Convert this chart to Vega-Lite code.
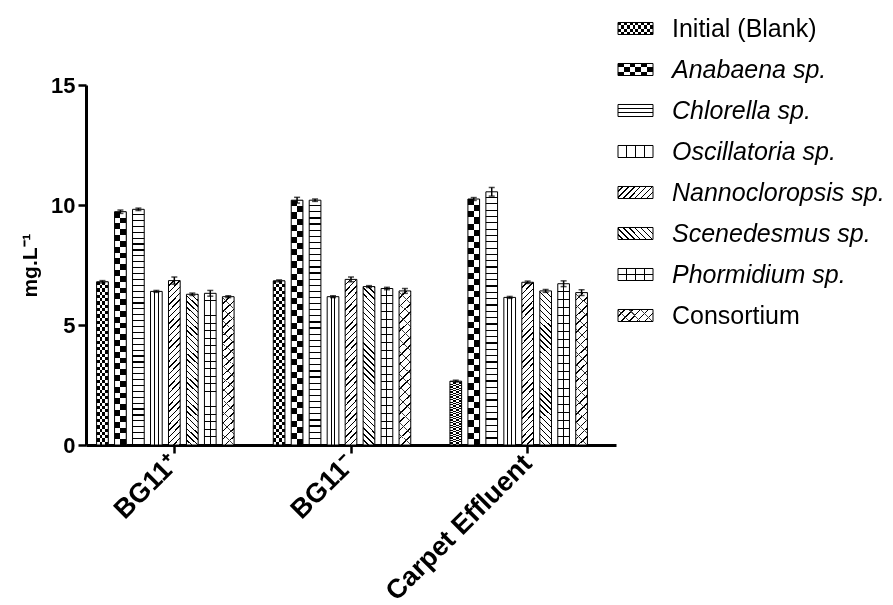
{
"$schema": "https://vega.github.io/schema/vega-lite/v6.json",
"padding": {"left": 19, "top": 8, "right": 0, "bottom": 0},
"background": "white",
"config": {"view": {"stroke": null}, "font": "Liberation Sans"},
"datasets": {
"bars": [
{"medium": "BG11⁺", "species": "Initial (Blank)", "value": 6.8, "lo": 6.75, "hi": 6.85},
{"medium": "BG11⁺", "species": "Anabaena sp.", "value": 9.72, "lo": 9.65, "hi": 9.79},
{"medium": "BG11⁺", "species": "Chlorella sp.", "value": 9.82, "lo": 9.77, "hi": 9.87},
{"medium": "BG11⁺", "species": "Oscillatoria sp.", "value": 6.4, "lo": 6.36, "hi": 6.44},
{"medium": "BG11⁺", "species": "Nannocloropsis sp.", "value": 6.85, "lo": 6.7, "hi": 7.0},
{"medium": "BG11⁺", "species": "Scenedesmus sp.", "value": 6.28, "lo": 6.23, "hi": 6.33},
{"medium": "BG11⁺", "species": "Phormidium sp.", "value": 6.32, "lo": 6.2, "hi": 6.44},
{"medium": "BG11⁺", "species": "Consortium", "value": 6.18, "lo": 6.14, "hi": 6.22},
{"medium": "BG11⁻", "species": "Initial (Blank)", "value": 6.84, "lo": 6.8, "hi": 6.88},
{"medium": "BG11⁻", "species": "Anabaena sp.", "value": 10.2, "lo": 10.08, "hi": 10.32},
{"medium": "BG11⁻", "species": "Chlorella sp.", "value": 10.2, "lo": 10.15, "hi": 10.25},
{"medium": "BG11⁻", "species": "Oscillatoria sp.", "value": 6.18, "lo": 6.14, "hi": 6.22},
{"medium": "BG11⁻", "species": "Nannocloropsis sp.", "value": 6.9, "lo": 6.8, "hi": 7.0},
{"medium": "BG11⁻", "species": "Scenedesmus sp.", "value": 6.6, "lo": 6.56, "hi": 6.64},
{"medium": "BG11⁻", "species": "Phormidium sp.", "value": 6.52, "lo": 6.47, "hi": 6.57},
{"medium": "BG11⁻", "species": "Consortium", "value": 6.42, "lo": 6.32, "hi": 6.52},
{"medium": "Carpet Effluent", "species": "Initial (Blank)", "value": 2.66, "lo": 2.62, "hi": 2.7},
{"medium": "Carpet Effluent", "species": "Anabaena sp.", "value": 10.25, "lo": 10.19, "hi": 10.31},
{"medium": "Carpet Effluent", "species": "Chlorella sp.", "value": 10.55, "lo": 10.37, "hi": 10.73},
{"medium": "Carpet Effluent", "species": "Oscillatoria sp.", "value": 6.15, "lo": 6.11, "hi": 6.19},
{"medium": "Carpet Effluent", "species": "Nannocloropsis sp.", "value": 6.78, "lo": 6.73, "hi": 6.83},
{"medium": "Carpet Effluent", "species": "Scenedesmus sp.", "value": 6.42, "lo": 6.36, "hi": 6.48},
{"medium": "Carpet Effluent", "species": "Phormidium sp.", "value": 6.72, "lo": 6.6, "hi": 6.84},
{"medium": "Carpet Effluent", "species": "Consortium", "value": 6.35, "lo": 6.23, "hi": 6.47}
],
"legend": [
{"species": "Initial (Blank)"},
{"species": "Anabaena sp."},
{"species": "Chlorella sp."},
{"species": "Oscillatoria sp."},
{"species": "Nannocloropsis sp."},
{"species": "Scenedesmus sp."},
{"species": "Phormidium sp."},
{"species": "Consortium"}
]
},
"spacing": 1,
"hconcat": [
{
"spacing": 0,
"vconcat": [
{"width": 10, "height": 66, "data": {"values": []}, "mark": "text"},
{
"width": 530, "height": 360,
"data": {"name": "bars"},
"encoding": {
"x": {"field": "medium", "type": "nominal",
 "scale": {"domain": ["BG11⁺", "BG11⁻", "Carpet Effluent"], "paddingInner": 0.12, "paddingOuter": 0.06},
 "axis": {"title": null, "labelAngle": -45, "labelAlign": "right", "labelBaseline": "middle", "labelFontSize": 27, "labelFontWeight": "bold", "labelColor": "#000", "labelPadding": 6, "labelLimit": 400, "tickSize": 8, "tickWidth": 2.5, "tickColor": "#000", "domainWidth": 3, "domainColor": "#000"}},
"xOffset": {"field": "species", "type": "nominal",
 "scale": {"domain": ["Initial (Blank)", "Anabaena sp.", "Chlorella sp.", "Oscillatoria sp.", "Nannocloropsis sp.", "Scenedesmus sp.", "Phormidium sp.", "Consortium", "_"], "paddingInner": 0.35, "paddingOuter": 0}},
"y": {"field": "value", "type": "quantitative", "title": "mg.L⁻¹",
 "scale": {"domain": [0, 15], "nice": false},
 "axis": {"values": [0, 5, 10, 15], "grid": false, "titleFontSize": 21, "titleFontWeight": "bold", "titleColor": "#000", "titlePadding": 10, "labelFontSize": 22, "labelFontWeight": "bold", "labelColor": "#000", "labelPadding": 3, "tickSize": 8, "tickWidth": 2.5, "tickColor": "#000", "domainWidth": 3, "domainColor": "#000"}}
},
"layer": [
{
"mark": {"type": "bar"},
"encoding": {"fill": {"condition": [
{"test": "datum.species==='Initial (Blank)'", "value": {"gradient":"linear","x1":0,"y1":0,"x2":0,"y2":1,"stops":[
{"offset":0,"color":"#000"},{"offset":0.02,"color":"#000"},{"offset":0.02,"color":"#fff"},{"offset":0.04,"color":"#fff"},
{"offset":0.04,"color":"#000"},{"offset":0.06,"color":"#000"},{"offset":0.06,"color":"#fff"},{"offset":0.08,"color":"#fff"},
{"offset":0.08,"color":"#000"},{"offset":0.1,"color":"#000"},{"offset":0.1,"color":"#fff"},{"offset":0.12,"color":"#fff"},
{"offset":0.12,"color":"#000"},{"offset":0.14,"color":"#000"},{"offset":0.14,"color":"#fff"},{"offset":0.16,"color":"#fff"},
{"offset":0.16,"color":"#000"},{"offset":0.18,"color":"#000"},{"offset":0.18,"color":"#fff"},{"offset":0.2,"color":"#fff"},
{"offset":0.2,"color":"#000"},{"offset":0.22,"color":"#000"},{"offset":0.22,"color":"#fff"},{"offset":0.24,"color":"#fff"},
{"offset":0.24,"color":"#000"},{"offset":0.26,"color":"#000"},{"offset":0.26,"color":"#fff"},{"offset":0.28,"color":"#fff"},
{"offset":0.28,"color":"#000"},{"offset":0.3,"color":"#000"},{"offset":0.3,"color":"#fff"},{"offset":0.32,"color":"#fff"},
{"offset":0.32,"color":"#000"},{"offset":0.34,"color":"#000"},{"offset":0.34,"color":"#fff"},{"offset":0.36,"color":"#fff"},
{"offset":0.36,"color":"#000"},{"offset":0.38,"color":"#000"},{"offset":0.38,"color":"#fff"},{"offset":0.4,"color":"#fff"},
{"offset":0.4,"color":"#000"},{"offset":0.42,"color":"#000"},{"offset":0.42,"color":"#fff"},{"offset":0.44,"color":"#fff"},
{"offset":0.44,"color":"#000"},{"offset":0.46,"color":"#000"},{"offset":0.46,"color":"#fff"},{"offset":0.48,"color":"#fff"},
{"offset":0.48,"color":"#000"},{"offset":0.5,"color":"#000"},{"offset":0.5,"color":"#fff"},{"offset":0.52,"color":"#fff"},
{"offset":0.52,"color":"#000"},{"offset":0.54,"color":"#000"},{"offset":0.54,"color":"#fff"},{"offset":0.56,"color":"#fff"},
{"offset":0.56,"color":"#000"},{"offset":0.58,"color":"#000"},{"offset":0.58,"color":"#fff"},{"offset":0.6,"color":"#fff"},
{"offset":0.6,"color":"#000"},{"offset":0.62,"color":"#000"},{"offset":0.62,"color":"#fff"},{"offset":0.64,"color":"#fff"},
{"offset":0.64,"color":"#000"},{"offset":0.66,"color":"#000"},{"offset":0.66,"color":"#fff"},{"offset":0.68,"color":"#fff"},
{"offset":0.68,"color":"#000"},{"offset":0.7,"color":"#000"},{"offset":0.7,"color":"#fff"},{"offset":0.72,"color":"#fff"},
{"offset":0.72,"color":"#000"},{"offset":0.74,"color":"#000"},{"offset":0.74,"color":"#fff"},{"offset":0.76,"color":"#fff"},
{"offset":0.76,"color":"#000"},{"offset":0.78,"color":"#000"},{"offset":0.78,"color":"#fff"},{"offset":0.8,"color":"#fff"},
{"offset":0.8,"color":"#000"},{"offset":0.82,"color":"#000"},{"offset":0.82,"color":"#fff"},{"offset":0.84,"color":"#fff"},
{"offset":0.84,"color":"#000"},{"offset":0.86,"color":"#000"},{"offset":0.86,"color":"#fff"},{"offset":0.88,"color":"#fff"},
{"offset":0.88,"color":"#000"},{"offset":0.9,"color":"#000"},{"offset":0.9,"color":"#fff"},{"offset":0.92,"color":"#fff"},
{"offset":0.92,"color":"#000"},{"offset":0.94,"color":"#000"},{"offset":0.94,"color":"#fff"},{"offset":0.96,"color":"#fff"},
{"offset":0.96,"color":"#000"},{"offset":0.98,"color":"#000"},{"offset":0.98,"color":"#fff"},{"offset":1,"color":"#fff"}]}},
{"test": "datum.species==='Anabaena sp.'", "value": {"gradient":"linear","x1":0,"y1":0,"x2":0,"y2":1,"stops":[
{"offset":0,"color":"#000"},{"offset":0.025,"color":"#000"},{"offset":0.025,"color":"#fff"},{"offset":0.05,"color":"#fff"},
{"offset":0.05,"color":"#000"},{"offset":0.075,"color":"#000"},{"offset":0.075,"color":"#fff"},{"offset":0.1,"color":"#fff"},
{"offset":0.1,"color":"#000"},{"offset":0.125,"color":"#000"},{"offset":0.125,"color":"#fff"},{"offset":0.15,"color":"#fff"},
{"offset":0.15,"color":"#000"},{"offset":0.175,"color":"#000"},{"offset":0.175,"color":"#fff"},{"offset":0.2,"color":"#fff"},
{"offset":0.2,"color":"#000"},{"offset":0.225,"color":"#000"},{"offset":0.225,"color":"#fff"},{"offset":0.25,"color":"#fff"},
{"offset":0.25,"color":"#000"},{"offset":0.275,"color":"#000"},{"offset":0.275,"color":"#fff"},{"offset":0.3,"color":"#fff"},
{"offset":0.3,"color":"#000"},{"offset":0.325,"color":"#000"},{"offset":0.325,"color":"#fff"},{"offset":0.35,"color":"#fff"},
{"offset":0.35,"color":"#000"},{"offset":0.375,"color":"#000"},{"offset":0.375,"color":"#fff"},{"offset":0.4,"color":"#fff"},
{"offset":0.4,"color":"#000"},{"offset":0.425,"color":"#000"},{"offset":0.425,"color":"#fff"},{"offset":0.45,"color":"#fff"},
{"offset":0.45,"color":"#000"},{"offset":0.475,"color":"#000"},{"offset":0.475,"color":"#fff"},{"offset":0.5,"color":"#fff"},
{"offset":0.5,"color":"#000"},{"offset":0.525,"color":"#000"},{"offset":0.525,"color":"#fff"},{"offset":0.55,"color":"#fff"},
{"offset":0.55,"color":"#000"},{"offset":0.575,"color":"#000"},{"offset":0.575,"color":"#fff"},{"offset":0.6,"color":"#fff"},
{"offset":0.6,"color":"#000"},{"offset":0.625,"color":"#000"},{"offset":0.625,"color":"#fff"},{"offset":0.65,"color":"#fff"},
{"offset":0.65,"color":"#000"},{"offset":0.675,"color":"#000"},{"offset":0.675,"color":"#fff"},{"offset":0.7,"color":"#fff"},
{"offset":0.7,"color":"#000"},{"offset":0.725,"color":"#000"},{"offset":0.725,"color":"#fff"},{"offset":0.75,"color":"#fff"},
{"offset":0.75,"color":"#000"},{"offset":0.775,"color":"#000"},{"offset":0.775,"color":"#fff"},{"offset":0.8,"color":"#fff"},
{"offset":0.8,"color":"#000"},{"offset":0.825,"color":"#000"},{"offset":0.825,"color":"#fff"},{"offset":0.85,"color":"#fff"},
{"offset":0.85,"color":"#000"},{"offset":0.875,"color":"#000"},{"offset":0.875,"color":"#fff"},{"offset":0.9,"color":"#fff"},
{"offset":0.9,"color":"#000"},{"offset":0.925,"color":"#000"},{"offset":0.925,"color":"#fff"},{"offset":0.95,"color":"#fff"},
{"offset":0.95,"color":"#000"},{"offset":0.975,"color":"#000"},{"offset":0.975,"color":"#fff"},{"offset":1,"color":"#fff"}]}},
{"test": "datum.species==='Chlorella sp.'", "value": {"gradient":"linear","x1":0,"y1":0,"x2":0,"y2":1,"stops":[
{"offset":0,"color":"#fff"},
{"offset":0.02,"color":"#fff"},{"offset":0.02,"color":"#000"},{"offset":0.025,"color":"#000"},{"offset":0.025,"color":"#fff"},
{"offset":0.045,"color":"#fff"},{"offset":0.045,"color":"#000"},{"offset":0.05,"color":"#000"},{"offset":0.05,"color":"#fff"},
{"offset":0.07,"color":"#fff"},{"offset":0.07,"color":"#000"},{"offset":0.075,"color":"#000"},{"offset":0.075,"color":"#fff"},
{"offset":0.095,"color":"#fff"},{"offset":0.095,"color":"#000"},{"offset":0.1,"color":"#000"},{"offset":0.1,"color":"#fff"},
{"offset":0.12,"color":"#fff"},{"offset":0.12,"color":"#000"},{"offset":0.125,"color":"#000"},{"offset":0.125,"color":"#fff"},
{"offset":0.145,"color":"#fff"},{"offset":0.145,"color":"#000"},{"offset":0.15,"color":"#000"},{"offset":0.15,"color":"#fff"},
{"offset":0.17,"color":"#fff"},{"offset":0.17,"color":"#000"},{"offset":0.175,"color":"#000"},{"offset":0.175,"color":"#fff"},
{"offset":0.195,"color":"#fff"},{"offset":0.195,"color":"#000"},{"offset":0.2,"color":"#000"},{"offset":0.2,"color":"#fff"},
{"offset":0.22,"color":"#fff"},{"offset":0.22,"color":"#000"},{"offset":0.225,"color":"#000"},{"offset":0.225,"color":"#fff"},
{"offset":0.245,"color":"#fff"},{"offset":0.245,"color":"#000"},{"offset":0.25,"color":"#000"},{"offset":0.25,"color":"#fff"},
{"offset":0.27,"color":"#fff"},{"offset":0.27,"color":"#000"},{"offset":0.275,"color":"#000"},{"offset":0.275,"color":"#fff"},
{"offset":0.295,"color":"#fff"},{"offset":0.295,"color":"#000"},{"offset":0.3,"color":"#000"},{"offset":0.3,"color":"#fff"},
{"offset":0.32,"color":"#fff"},{"offset":0.32,"color":"#000"},{"offset":0.325,"color":"#000"},{"offset":0.325,"color":"#fff"},
{"offset":0.345,"color":"#fff"},{"offset":0.345,"color":"#000"},{"offset":0.35,"color":"#000"},{"offset":0.35,"color":"#fff"},
{"offset":0.37,"color":"#fff"},{"offset":0.37,"color":"#000"},{"offset":0.375,"color":"#000"},{"offset":0.375,"color":"#fff"},
{"offset":0.395,"color":"#fff"},{"offset":0.395,"color":"#000"},{"offset":0.4,"color":"#000"},{"offset":0.4,"color":"#fff"},
{"offset":0.42,"color":"#fff"},{"offset":0.42,"color":"#000"},{"offset":0.425,"color":"#000"},{"offset":0.425,"color":"#fff"},
{"offset":0.445,"color":"#fff"},{"offset":0.445,"color":"#000"},{"offset":0.45,"color":"#000"},{"offset":0.45,"color":"#fff"},
{"offset":0.47,"color":"#fff"},{"offset":0.47,"color":"#000"},{"offset":0.475,"color":"#000"},{"offset":0.475,"color":"#fff"},
{"offset":0.495,"color":"#fff"},{"offset":0.495,"color":"#000"},{"offset":0.5,"color":"#000"},{"offset":0.5,"color":"#fff"},
{"offset":0.52,"color":"#fff"},{"offset":0.52,"color":"#000"},{"offset":0.525,"color":"#000"},{"offset":0.525,"color":"#fff"},
{"offset":0.545,"color":"#fff"},{"offset":0.545,"color":"#000"},{"offset":0.55,"color":"#000"},{"offset":0.55,"color":"#fff"},
{"offset":0.57,"color":"#fff"},{"offset":0.57,"color":"#000"},{"offset":0.575,"color":"#000"},{"offset":0.575,"color":"#fff"},
{"offset":0.595,"color":"#fff"},{"offset":0.595,"color":"#000"},{"offset":0.6,"color":"#000"},{"offset":0.6,"color":"#fff"},
{"offset":0.62,"color":"#fff"},{"offset":0.62,"color":"#000"},{"offset":0.625,"color":"#000"},{"offset":0.625,"color":"#fff"},
{"offset":0.645,"color":"#fff"},{"offset":0.645,"color":"#000"},{"offset":0.65,"color":"#000"},{"offset":0.65,"color":"#fff"},
{"offset":0.67,"color":"#fff"},{"offset":0.67,"color":"#000"},{"offset":0.675,"color":"#000"},{"offset":0.675,"color":"#fff"},
{"offset":0.695,"color":"#fff"},{"offset":0.695,"color":"#000"},{"offset":0.7,"color":"#000"},{"offset":0.7,"color":"#fff"},
{"offset":0.72,"color":"#fff"},{"offset":0.72,"color":"#000"},{"offset":0.725,"color":"#000"},{"offset":0.725,"color":"#fff"},
{"offset":0.745,"color":"#fff"},{"offset":0.745,"color":"#000"},{"offset":0.75,"color":"#000"},{"offset":0.75,"color":"#fff"},
{"offset":0.77,"color":"#fff"},{"offset":0.77,"color":"#000"},{"offset":0.775,"color":"#000"},{"offset":0.775,"color":"#fff"},
{"offset":0.795,"color":"#fff"},{"offset":0.795,"color":"#000"},{"offset":0.8,"color":"#000"},{"offset":0.8,"color":"#fff"},
{"offset":0.82,"color":"#fff"},{"offset":0.82,"color":"#000"},{"offset":0.825,"color":"#000"},{"offset":0.825,"color":"#fff"},
{"offset":0.845,"color":"#fff"},{"offset":0.845,"color":"#000"},{"offset":0.85,"color":"#000"},{"offset":0.85,"color":"#fff"},
{"offset":0.87,"color":"#fff"},{"offset":0.87,"color":"#000"},{"offset":0.875,"color":"#000"},{"offset":0.875,"color":"#fff"},
{"offset":0.895,"color":"#fff"},{"offset":0.895,"color":"#000"},{"offset":0.9,"color":"#000"},{"offset":0.9,"color":"#fff"},
{"offset":0.92,"color":"#fff"},{"offset":0.92,"color":"#000"},{"offset":0.925,"color":"#000"},{"offset":0.925,"color":"#fff"},
{"offset":0.945,"color":"#fff"},{"offset":0.945,"color":"#000"},{"offset":0.95,"color":"#000"},{"offset":0.95,"color":"#fff"},
{"offset":0.97,"color":"#fff"},{"offset":0.97,"color":"#000"},{"offset":0.975,"color":"#000"},{"offset":0.975,"color":"#fff"},
{"offset":0.995,"color":"#fff"},{"offset":0.995,"color":"#000"},{"offset":1,"color":"#000"}]}},
{"test": "datum.species==='Oscillatoria sp.'", "value": {"gradient":"linear","x1":0,"y1":0,"x2":1,"y2":0,"stops":[
{"offset":0,"color":"#fff"},{"offset":0.29,"color":"#fff"},{"offset":0.29,"color":"#000"},{"offset":0.375,"color":"#000"},{"offset":0.375,"color":"#fff"},
{"offset":0.625,"color":"#fff"},{"offset":0.625,"color":"#000"},{"offset":0.71,"color":"#000"},{"offset":0.71,"color":"#fff"},{"offset":1,"color":"#fff"}]}},
{"test": "datum.species==='Nannocloropsis sp.'", "value": {"gradient":"linear","x1":0,"y1":0,"x2":0.079,"y2":1.068,"stops":[
{"offset":0,"color":"#fff"},
{"offset":0.0274,"color":"#fff"},{"offset":0.0274,"color":"#000"},{"offset":0.0357,"color":"#000"},{"offset":0.0357,"color":"#fff"},
{"offset":0.0631,"color":"#fff"},{"offset":0.0631,"color":"#000"},{"offset":0.0714,"color":"#000"},{"offset":0.0714,"color":"#fff"},
{"offset":0.0988,"color":"#fff"},{"offset":0.0988,"color":"#000"},{"offset":0.1071,"color":"#000"},{"offset":0.1071,"color":"#fff"},
{"offset":0.1346,"color":"#fff"},{"offset":0.1346,"color":"#000"},{"offset":0.1429,"color":"#000"},{"offset":0.1429,"color":"#fff"},
{"offset":0.1703,"color":"#fff"},{"offset":0.1703,"color":"#000"},{"offset":0.1786,"color":"#000"},{"offset":0.1786,"color":"#fff"},
{"offset":0.206,"color":"#fff"},{"offset":0.206,"color":"#000"},{"offset":0.2143,"color":"#000"},{"offset":0.2143,"color":"#fff"},
{"offset":0.2417,"color":"#fff"},{"offset":0.2417,"color":"#000"},{"offset":0.25,"color":"#000"},{"offset":0.25,"color":"#fff"},
{"offset":0.2774,"color":"#fff"},{"offset":0.2774,"color":"#000"},{"offset":0.2857,"color":"#000"},{"offset":0.2857,"color":"#fff"},
{"offset":0.3131,"color":"#fff"},{"offset":0.3131,"color":"#000"},{"offset":0.3214,"color":"#000"},{"offset":0.3214,"color":"#fff"},
{"offset":0.3488,"color":"#fff"},{"offset":0.3488,"color":"#000"},{"offset":0.3571,"color":"#000"},{"offset":0.3571,"color":"#fff"},
{"offset":0.3846,"color":"#fff"},{"offset":0.3846,"color":"#000"},{"offset":0.3929,"color":"#000"},{"offset":0.3929,"color":"#fff"},
{"offset":0.4203,"color":"#fff"},{"offset":0.4203,"color":"#000"},{"offset":0.4286,"color":"#000"},{"offset":0.4286,"color":"#fff"},
{"offset":0.456,"color":"#fff"},{"offset":0.456,"color":"#000"},{"offset":0.4643,"color":"#000"},{"offset":0.4643,"color":"#fff"},
{"offset":0.4917,"color":"#fff"},{"offset":0.4917,"color":"#000"},{"offset":0.5,"color":"#000"},{"offset":0.5,"color":"#fff"},
{"offset":0.5274,"color":"#fff"},{"offset":0.5274,"color":"#000"},{"offset":0.5357,"color":"#000"},{"offset":0.5357,"color":"#fff"},
{"offset":0.5631,"color":"#fff"},{"offset":0.5631,"color":"#000"},{"offset":0.5714,"color":"#000"},{"offset":0.5714,"color":"#fff"},
{"offset":0.5988,"color":"#fff"},{"offset":0.5988,"color":"#000"},{"offset":0.6071,"color":"#000"},{"offset":0.6071,"color":"#fff"},
{"offset":0.6346,"color":"#fff"},{"offset":0.6346,"color":"#000"},{"offset":0.6429,"color":"#000"},{"offset":0.6429,"color":"#fff"},
{"offset":0.6703,"color":"#fff"},{"offset":0.6703,"color":"#000"},{"offset":0.6786,"color":"#000"},{"offset":0.6786,"color":"#fff"},
{"offset":0.706,"color":"#fff"},{"offset":0.706,"color":"#000"},{"offset":0.7143,"color":"#000"},{"offset":0.7143,"color":"#fff"},
{"offset":0.7417,"color":"#fff"},{"offset":0.7417,"color":"#000"},{"offset":0.75,"color":"#000"},{"offset":0.75,"color":"#fff"},
{"offset":0.7774,"color":"#fff"},{"offset":0.7774,"color":"#000"},{"offset":0.7857,"color":"#000"},{"offset":0.7857,"color":"#fff"},
{"offset":0.8131,"color":"#fff"},{"offset":0.8131,"color":"#000"},{"offset":0.8214,"color":"#000"},{"offset":0.8214,"color":"#fff"},
{"offset":0.8488,"color":"#fff"},{"offset":0.8488,"color":"#000"},{"offset":0.8571,"color":"#000"},{"offset":0.8571,"color":"#fff"},
{"offset":0.8846,"color":"#fff"},{"offset":0.8846,"color":"#000"},{"offset":0.8929,"color":"#000"},{"offset":0.8929,"color":"#fff"},
{"offset":0.9203,"color":"#fff"},{"offset":0.9203,"color":"#000"},{"offset":0.9286,"color":"#000"},{"offset":0.9286,"color":"#fff"},
{"offset":0.956,"color":"#fff"},{"offset":0.956,"color":"#000"},{"offset":0.9643,"color":"#000"},{"offset":0.9643,"color":"#fff"},
{"offset":0.9917,"color":"#fff"},{"offset":0.9917,"color":"#000"},{"offset":1,"color":"#000"}]}},
{"test": "datum.species==='Scenedesmus sp.'", "value": {"gradient":"linear","x1":0,"y1":1,"x2":0.079,"y2":-0.068,"stops":[
{"offset":0,"color":"#fff"},
{"offset":0.0274,"color":"#fff"},{"offset":0.0274,"color":"#000"},{"offset":0.0357,"color":"#000"},{"offset":0.0357,"color":"#fff"},
{"offset":0.0631,"color":"#fff"},{"offset":0.0631,"color":"#000"},{"offset":0.0714,"color":"#000"},{"offset":0.0714,"color":"#fff"},
{"offset":0.0988,"color":"#fff"},{"offset":0.0988,"color":"#000"},{"offset":0.1071,"color":"#000"},{"offset":0.1071,"color":"#fff"},
{"offset":0.1346,"color":"#fff"},{"offset":0.1346,"color":"#000"},{"offset":0.1429,"color":"#000"},{"offset":0.1429,"color":"#fff"},
{"offset":0.1703,"color":"#fff"},{"offset":0.1703,"color":"#000"},{"offset":0.1786,"color":"#000"},{"offset":0.1786,"color":"#fff"},
{"offset":0.206,"color":"#fff"},{"offset":0.206,"color":"#000"},{"offset":0.2143,"color":"#000"},{"offset":0.2143,"color":"#fff"},
{"offset":0.2417,"color":"#fff"},{"offset":0.2417,"color":"#000"},{"offset":0.25,"color":"#000"},{"offset":0.25,"color":"#fff"},
{"offset":0.2774,"color":"#fff"},{"offset":0.2774,"color":"#000"},{"offset":0.2857,"color":"#000"},{"offset":0.2857,"color":"#fff"},
{"offset":0.3131,"color":"#fff"},{"offset":0.3131,"color":"#000"},{"offset":0.3214,"color":"#000"},{"offset":0.3214,"color":"#fff"},
{"offset":0.3488,"color":"#fff"},{"offset":0.3488,"color":"#000"},{"offset":0.3571,"color":"#000"},{"offset":0.3571,"color":"#fff"},
{"offset":0.3846,"color":"#fff"},{"offset":0.3846,"color":"#000"},{"offset":0.3929,"color":"#000"},{"offset":0.3929,"color":"#fff"},
{"offset":0.4203,"color":"#fff"},{"offset":0.4203,"color":"#000"},{"offset":0.4286,"color":"#000"},{"offset":0.4286,"color":"#fff"},
{"offset":0.456,"color":"#fff"},{"offset":0.456,"color":"#000"},{"offset":0.4643,"color":"#000"},{"offset":0.4643,"color":"#fff"},
{"offset":0.4917,"color":"#fff"},{"offset":0.4917,"color":"#000"},{"offset":0.5,"color":"#000"},{"offset":0.5,"color":"#fff"},
{"offset":0.5274,"color":"#fff"},{"offset":0.5274,"color":"#000"},{"offset":0.5357,"color":"#000"},{"offset":0.5357,"color":"#fff"},
{"offset":0.5631,"color":"#fff"},{"offset":0.5631,"color":"#000"},{"offset":0.5714,"color":"#000"},{"offset":0.5714,"color":"#fff"},
{"offset":0.5988,"color":"#fff"},{"offset":0.5988,"color":"#000"},{"offset":0.6071,"color":"#000"},{"offset":0.6071,"color":"#fff"},
{"offset":0.6346,"color":"#fff"},{"offset":0.6346,"color":"#000"},{"offset":0.6429,"color":"#000"},{"offset":0.6429,"color":"#fff"},
{"offset":0.6703,"color":"#fff"},{"offset":0.6703,"color":"#000"},{"offset":0.6786,"color":"#000"},{"offset":0.6786,"color":"#fff"},
{"offset":0.706,"color":"#fff"},{"offset":0.706,"color":"#000"},{"offset":0.7143,"color":"#000"},{"offset":0.7143,"color":"#fff"},
{"offset":0.7417,"color":"#fff"},{"offset":0.7417,"color":"#000"},{"offset":0.75,"color":"#000"},{"offset":0.75,"color":"#fff"},
{"offset":0.7774,"color":"#fff"},{"offset":0.7774,"color":"#000"},{"offset":0.7857,"color":"#000"},{"offset":0.7857,"color":"#fff"},
{"offset":0.8131,"color":"#fff"},{"offset":0.8131,"color":"#000"},{"offset":0.8214,"color":"#000"},{"offset":0.8214,"color":"#fff"},
{"offset":0.8488,"color":"#fff"},{"offset":0.8488,"color":"#000"},{"offset":0.8571,"color":"#000"},{"offset":0.8571,"color":"#fff"},
{"offset":0.8846,"color":"#fff"},{"offset":0.8846,"color":"#000"},{"offset":0.8929,"color":"#000"},{"offset":0.8929,"color":"#fff"},
{"offset":0.9203,"color":"#fff"},{"offset":0.9203,"color":"#000"},{"offset":0.9286,"color":"#000"},{"offset":0.9286,"color":"#fff"},
{"offset":0.956,"color":"#fff"},{"offset":0.956,"color":"#000"},{"offset":0.9643,"color":"#000"},{"offset":0.9643,"color":"#fff"},
{"offset":0.9917,"color":"#fff"},{"offset":0.9917,"color":"#000"},{"offset":1,"color":"#000"}]}},
{"test": "datum.species==='Phormidium sp.'", "value": {"gradient":"linear","x1":0,"y1":0,"x2":0,"y2":1,"stops":[
{"offset":0,"color":"#fff"},
{"offset":0.0435,"color":"#fff"},{"offset":0.0435,"color":"#000"},{"offset":0.05,"color":"#000"},{"offset":0.05,"color":"#fff"},
{"offset":0.0935,"color":"#fff"},{"offset":0.0935,"color":"#000"},{"offset":0.1,"color":"#000"},{"offset":0.1,"color":"#fff"},
{"offset":0.1435,"color":"#fff"},{"offset":0.1435,"color":"#000"},{"offset":0.15,"color":"#000"},{"offset":0.15,"color":"#fff"},
{"offset":0.1935,"color":"#fff"},{"offset":0.1935,"color":"#000"},{"offset":0.2,"color":"#000"},{"offset":0.2,"color":"#fff"},
{"offset":0.2435,"color":"#fff"},{"offset":0.2435,"color":"#000"},{"offset":0.25,"color":"#000"},{"offset":0.25,"color":"#fff"},
{"offset":0.2935,"color":"#fff"},{"offset":0.2935,"color":"#000"},{"offset":0.3,"color":"#000"},{"offset":0.3,"color":"#fff"},
{"offset":0.3435,"color":"#fff"},{"offset":0.3435,"color":"#000"},{"offset":0.35,"color":"#000"},{"offset":0.35,"color":"#fff"},
{"offset":0.3935,"color":"#fff"},{"offset":0.3935,"color":"#000"},{"offset":0.4,"color":"#000"},{"offset":0.4,"color":"#fff"},
{"offset":0.4435,"color":"#fff"},{"offset":0.4435,"color":"#000"},{"offset":0.45,"color":"#000"},{"offset":0.45,"color":"#fff"},
{"offset":0.4935,"color":"#fff"},{"offset":0.4935,"color":"#000"},{"offset":0.5,"color":"#000"},{"offset":0.5,"color":"#fff"},
{"offset":0.5435,"color":"#fff"},{"offset":0.5435,"color":"#000"},{"offset":0.55,"color":"#000"},{"offset":0.55,"color":"#fff"},
{"offset":0.5935,"color":"#fff"},{"offset":0.5935,"color":"#000"},{"offset":0.6,"color":"#000"},{"offset":0.6,"color":"#fff"},
{"offset":0.6435,"color":"#fff"},{"offset":0.6435,"color":"#000"},{"offset":0.65,"color":"#000"},{"offset":0.65,"color":"#fff"},
{"offset":0.6935,"color":"#fff"},{"offset":0.6935,"color":"#000"},{"offset":0.7,"color":"#000"},{"offset":0.7,"color":"#fff"},
{"offset":0.7435,"color":"#fff"},{"offset":0.7435,"color":"#000"},{"offset":0.75,"color":"#000"},{"offset":0.75,"color":"#fff"},
{"offset":0.7935,"color":"#fff"},{"offset":0.7935,"color":"#000"},{"offset":0.8,"color":"#000"},{"offset":0.8,"color":"#fff"},
{"offset":0.8435,"color":"#fff"},{"offset":0.8435,"color":"#000"},{"offset":0.85,"color":"#000"},{"offset":0.85,"color":"#fff"},
{"offset":0.8935,"color":"#fff"},{"offset":0.8935,"color":"#000"},{"offset":0.9,"color":"#000"},{"offset":0.9,"color":"#fff"},
{"offset":0.9435,"color":"#fff"},{"offset":0.9435,"color":"#000"},{"offset":0.95,"color":"#000"},{"offset":0.95,"color":"#fff"},
{"offset":0.9935,"color":"#fff"},{"offset":0.9935,"color":"#000"},{"offset":1,"color":"#000"}]}}
],
"value": {"gradient":"linear","x1":0,"y1":0,"x2":0.079,"y2":1.068,"stops":[
{"offset":0,"color":"#fff"},
{"offset":0.041,"color":"#fff"},{"offset":0.041,"color":"#000"},{"offset":0.05,"color":"#000"},{"offset":0.05,"color":"#fff"},
{"offset":0.091,"color":"#fff"},{"offset":0.091,"color":"#000"},{"offset":0.1,"color":"#000"},{"offset":0.1,"color":"#fff"},
{"offset":0.141,"color":"#fff"},{"offset":0.141,"color":"#000"},{"offset":0.15,"color":"#000"},{"offset":0.15,"color":"#fff"},
{"offset":0.191,"color":"#fff"},{"offset":0.191,"color":"#000"},{"offset":0.2,"color":"#000"},{"offset":0.2,"color":"#fff"},
{"offset":0.241,"color":"#fff"},{"offset":0.241,"color":"#000"},{"offset":0.25,"color":"#000"},{"offset":0.25,"color":"#fff"},
{"offset":0.291,"color":"#fff"},{"offset":0.291,"color":"#000"},{"offset":0.3,"color":"#000"},{"offset":0.3,"color":"#fff"},
{"offset":0.341,"color":"#fff"},{"offset":0.341,"color":"#000"},{"offset":0.35,"color":"#000"},{"offset":0.35,"color":"#fff"},
{"offset":0.391,"color":"#fff"},{"offset":0.391,"color":"#000"},{"offset":0.4,"color":"#000"},{"offset":0.4,"color":"#fff"},
{"offset":0.441,"color":"#fff"},{"offset":0.441,"color":"#000"},{"offset":0.45,"color":"#000"},{"offset":0.45,"color":"#fff"},
{"offset":0.491,"color":"#fff"},{"offset":0.491,"color":"#000"},{"offset":0.5,"color":"#000"},{"offset":0.5,"color":"#fff"},
{"offset":0.541,"color":"#fff"},{"offset":0.541,"color":"#000"},{"offset":0.55,"color":"#000"},{"offset":0.55,"color":"#fff"},
{"offset":0.591,"color":"#fff"},{"offset":0.591,"color":"#000"},{"offset":0.6,"color":"#000"},{"offset":0.6,"color":"#fff"},
{"offset":0.641,"color":"#fff"},{"offset":0.641,"color":"#000"},{"offset":0.65,"color":"#000"},{"offset":0.65,"color":"#fff"},
{"offset":0.691,"color":"#fff"},{"offset":0.691,"color":"#000"},{"offset":0.7,"color":"#000"},{"offset":0.7,"color":"#fff"},
{"offset":0.741,"color":"#fff"},{"offset":0.741,"color":"#000"},{"offset":0.75,"color":"#000"},{"offset":0.75,"color":"#fff"},
{"offset":0.791,"color":"#fff"},{"offset":0.791,"color":"#000"},{"offset":0.8,"color":"#000"},{"offset":0.8,"color":"#fff"},
{"offset":0.841,"color":"#fff"},{"offset":0.841,"color":"#000"},{"offset":0.85,"color":"#000"},{"offset":0.85,"color":"#fff"},
{"offset":0.891,"color":"#fff"},{"offset":0.891,"color":"#000"},{"offset":0.9,"color":"#000"},{"offset":0.9,"color":"#fff"},
{"offset":0.941,"color":"#fff"},{"offset":0.941,"color":"#000"},{"offset":0.95,"color":"#000"},{"offset":0.95,"color":"#fff"},
{"offset":0.991,"color":"#fff"},{"offset":0.991,"color":"#000"},{"offset":1,"color":"#000"}]}
}}
},
{
"transform": [{"filter": {"field": "species", "oneOf": ["Phormidium sp.", "Consortium"]}}],
"mark": {"type": "bar"},
"encoding": {"fill": {"condition": {"test": "datum.species==='Phormidium sp.'", "value": {"gradient":"linear","x1":0,"y1":0,"x2":1,"y2":0,"stops":[
{"offset":0,"color":"rgba(0,0,0,0)"},{"offset":0.46,"color":"rgba(0,0,0,0)"},{"offset":0.46,"color":"#000"},{"offset":0.54,"color":"#000"},{"offset":0.54,"color":"rgba(0,0,0,0)"},{"offset":1,"color":"rgba(0,0,0,0)"}]}},
"value": {"gradient":"linear","x1":0,"y1":1,"x2":0.079,"y2":-0.068,"stops":[
{"offset":0,"color":"rgba(0,0,0,0)"},
{"offset":0.0654,"color":"rgba(0,0,0,0)"},{"offset":0.0654,"color":"#444"},{"offset":0.0714,"color":"#444"},{"offset":0.0714,"color":"rgba(0,0,0,0)"},
{"offset":0.1369,"color":"rgba(0,0,0,0)"},{"offset":0.1369,"color":"#444"},{"offset":0.1429,"color":"#444"},{"offset":0.1429,"color":"rgba(0,0,0,0)"},
{"offset":0.2083,"color":"rgba(0,0,0,0)"},{"offset":0.2083,"color":"#444"},{"offset":0.2143,"color":"#444"},{"offset":0.2143,"color":"rgba(0,0,0,0)"},
{"offset":0.2797,"color":"rgba(0,0,0,0)"},{"offset":0.2797,"color":"#444"},{"offset":0.2857,"color":"#444"},{"offset":0.2857,"color":"rgba(0,0,0,0)"},
{"offset":0.3511,"color":"rgba(0,0,0,0)"},{"offset":0.3511,"color":"#444"},{"offset":0.3571,"color":"#444"},{"offset":0.3571,"color":"rgba(0,0,0,0)"},
{"offset":0.4226,"color":"rgba(0,0,0,0)"},{"offset":0.4226,"color":"#444"},{"offset":0.4286,"color":"#444"},{"offset":0.4286,"color":"rgba(0,0,0,0)"},
{"offset":0.494,"color":"rgba(0,0,0,0)"},{"offset":0.494,"color":"#444"},{"offset":0.5,"color":"#444"},{"offset":0.5,"color":"rgba(0,0,0,0)"},
{"offset":0.5654,"color":"rgba(0,0,0,0)"},{"offset":0.5654,"color":"#444"},{"offset":0.5714,"color":"#444"},{"offset":0.5714,"color":"rgba(0,0,0,0)"},
{"offset":0.6369,"color":"rgba(0,0,0,0)"},{"offset":0.6369,"color":"#444"},{"offset":0.6429,"color":"#444"},{"offset":0.6429,"color":"rgba(0,0,0,0)"},
{"offset":0.7083,"color":"rgba(0,0,0,0)"},{"offset":0.7083,"color":"#444"},{"offset":0.7143,"color":"#444"},{"offset":0.7143,"color":"rgba(0,0,0,0)"},
{"offset":0.7797,"color":"rgba(0,0,0,0)"},{"offset":0.7797,"color":"#444"},{"offset":0.7857,"color":"#444"},{"offset":0.7857,"color":"rgba(0,0,0,0)"},
{"offset":0.8511,"color":"rgba(0,0,0,0)"},{"offset":0.8511,"color":"#444"},{"offset":0.8571,"color":"#444"},{"offset":0.8571,"color":"rgba(0,0,0,0)"},
{"offset":0.9226,"color":"rgba(0,0,0,0)"},{"offset":0.9226,"color":"#444"},{"offset":0.9286,"color":"#444"},{"offset":0.9286,"color":"rgba(0,0,0,0)"},
{"offset":0.994,"color":"rgba(0,0,0,0)"},{"offset":0.994,"color":"#444"},{"offset":1,"color":"#444"}]}
}}
},
{
"transform": [{"filter": {"field": "species", "oneOf": ["Initial (Blank)", "Anabaena sp."]}}],
"mark": {"type": "bar", "blend": "difference"},
"encoding": {"fill": {"condition": {"test": "datum.species==='Initial (Blank)'", "value": {"gradient":"linear","x1":0,"y1":0,"x2":1,"y2":0,"stops":[
{"offset":0,"color":"#000"},{"offset":0.25,"color":"#000"},{"offset":0.25,"color":"#fff"},{"offset":0.5,"color":"#fff"},{"offset":0.5,"color":"#000"},{"offset":0.75,"color":"#000"},{"offset":0.75,"color":"#fff"},{"offset":1,"color":"#fff"}]}},
"value": {"gradient":"linear","x1":0,"y1":0,"x2":1,"y2":0,"stops":[
{"offset":0,"color":"#000"},{"offset":0.5,"color":"#000"},{"offset":0.5,"color":"#fff"},{"offset":1,"color":"#fff"}]}
}}
},
{"mark": {"type": "bar", "fill": "white", "fillOpacity": 0, "stroke": "#000", "strokeWidth": 1}},
{"mark": {"type": "rule", "color": "#000", "strokeWidth": 1.5},
 "encoding": {"y": {"field": "lo", "type": "quantitative", "title": "mg.L⁻¹"}, "y2": {"field": "hi"}}},
{"mark": {"type": "tick", "color": "#000", "size": 6, "thickness": 1.5},
 "encoding": {"y": {"field": "hi", "type": "quantitative", "title": "mg.L⁻¹"}}},
{"mark": {"type": "tick", "color": "#000", "size": 6, "thickness": 1.5},
 "encoding": {"y": {"field": "lo", "type": "quantitative", "title": "mg.L⁻¹"}}}
]
}
]
},
{
"width": 272, "height": 328,
"data": {"name": "legend"},
"encoding": {
"y": {"field": "species", "type": "nominal", "axis": null,
 "scale": {"domain": ["Initial (Blank)", "Anabaena sp.", "Chlorella sp.", "Oscillatoria sp.", "Nannocloropsis sp.", "Scenedesmus sp.", "Phormidium sp.", "Consortium"], "paddingInner": 0.707, "paddingOuter": 0.3535}}
},
"layer": [
{
"mark": {"type": "rect"},
"encoding": {
"x": {"datum": 0, "type": "quantitative", "scale": {"domain": [0, 272], "nice": false, "zero": false}, "axis": null},
"x2": {"datum": 35},
"fill": {"condition": [
{"test": "datum.species==='Initial (Blank)'", "value": {"gradient":"linear","x1":0,"y1":0,"x2":0,"y2":1,"stops":[
{"offset":0,"color":"#000"},{"offset":0.25,"color":"#000"},{"offset":0.25,"color":"#fff"},{"offset":0.5,"color":"#fff"},{"offset":0.5,"color":"#000"},{"offset":0.75,"color":"#000"},{"offset":0.75,"color":"#fff"},{"offset":1,"color":"#fff"}]}},
{"test": "datum.species==='Anabaena sp.'", "value": {"gradient":"linear","x1":0,"y1":0,"x2":0,"y2":1,"stops":[
{"offset":0,"color":"#000"},{"offset":0.3333,"color":"#000"},{"offset":0.3333,"color":"#fff"},{"offset":0.6667,"color":"#fff"},{"offset":0.6667,"color":"#000"},{"offset":1,"color":"#000"}]}},
{"test": "datum.species==='Chlorella sp.'", "value": {"gradient":"linear","x1":0,"y1":0,"x2":0,"y2":1,"stops":[
{"offset":0,"color":"#fff"},{"offset":0.29,"color":"#fff"},{"offset":0.29,"color":"#000"},{"offset":0.375,"color":"#000"},{"offset":0.375,"color":"#fff"},{"offset":0.625,"color":"#fff"},{"offset":0.625,"color":"#000"},{"offset":0.71,"color":"#000"},{"offset":0.71,"color":"#fff"},{"offset":1,"color":"#fff"}]}},
{"test": "datum.species==='Oscillatoria sp.'", "value": {"gradient":"linear","x1":0,"y1":0,"x2":1,"y2":0,"stops":[
{"offset":0,"color":"#fff"},{"offset":0.235,"color":"#fff"},{"offset":0.235,"color":"#000"},{"offset":0.265,"color":"#000"},{"offset":0.265,"color":"#fff"},{"offset":0.485,"color":"#fff"},{"offset":0.485,"color":"#000"},{"offset":0.515,"color":"#000"},{"offset":0.515,"color":"#fff"},{"offset":0.735,"color":"#fff"},{"offset":0.735,"color":"#000"},{"offset":0.765,"color":"#000"},{"offset":0.765,"color":"#fff"},{"offset":1,"color":"#fff"}]}},
{"test": "datum.species==='Nannocloropsis sp.'", "value": {"gradient":"linear","x1":0,"y1":0,"x2":1.2016,"y2":0.412,"stops":[
{"offset":0,"color":"#fff"},{"offset":0.095,"color":"#fff"},{"offset":0.095,"color":"#000"},{"offset":0.125,"color":"#000"},{"offset":0.125,"color":"#fff"},
{"offset":0.22,"color":"#fff"},{"offset":0.22,"color":"#000"},{"offset":0.25,"color":"#000"},{"offset":0.25,"color":"#fff"},
{"offset":0.345,"color":"#fff"},{"offset":0.345,"color":"#000"},{"offset":0.375,"color":"#000"},{"offset":0.375,"color":"#fff"},
{"offset":0.47,"color":"#fff"},{"offset":0.47,"color":"#000"},{"offset":0.5,"color":"#000"},{"offset":0.5,"color":"#fff"},
{"offset":0.595,"color":"#fff"},{"offset":0.595,"color":"#000"},{"offset":0.625,"color":"#000"},{"offset":0.625,"color":"#fff"},
{"offset":0.72,"color":"#fff"},{"offset":0.72,"color":"#000"},{"offset":0.75,"color":"#000"},{"offset":0.75,"color":"#fff"},
{"offset":0.845,"color":"#fff"},{"offset":0.845,"color":"#000"},{"offset":0.875,"color":"#000"},{"offset":0.875,"color":"#fff"},
{"offset":0.97,"color":"#fff"},{"offset":0.97,"color":"#000"},{"offset":1,"color":"#000"}]}},
{"test": "datum.species==='Scenedesmus sp.'", "value": {"gradient":"linear","x1":0,"y1":1,"x2":1.2016,"y2":0.588,"stops":[
{"offset":0,"color":"#fff"},{"offset":0.095,"color":"#fff"},{"offset":0.095,"color":"#000"},{"offset":0.125,"color":"#000"},{"offset":0.125,"color":"#fff"},
{"offset":0.22,"color":"#fff"},{"offset":0.22,"color":"#000"},{"offset":0.25,"color":"#000"},{"offset":0.25,"color":"#fff"},
{"offset":0.345,"color":"#fff"},{"offset":0.345,"color":"#000"},{"offset":0.375,"color":"#000"},{"offset":0.375,"color":"#fff"},
{"offset":0.47,"color":"#fff"},{"offset":0.47,"color":"#000"},{"offset":0.5,"color":"#000"},{"offset":0.5,"color":"#fff"},
{"offset":0.595,"color":"#fff"},{"offset":0.595,"color":"#000"},{"offset":0.625,"color":"#000"},{"offset":0.625,"color":"#fff"},
{"offset":0.72,"color":"#fff"},{"offset":0.72,"color":"#000"},{"offset":0.75,"color":"#000"},{"offset":0.75,"color":"#fff"},
{"offset":0.845,"color":"#fff"},{"offset":0.845,"color":"#000"},{"offset":0.875,"color":"#000"},{"offset":0.875,"color":"#fff"},
{"offset":0.97,"color":"#fff"},{"offset":0.97,"color":"#000"},{"offset":1,"color":"#000"}]}},
{"test": "datum.species==='Phormidium sp.'", "value": {"gradient":"linear","x1":0,"y1":0,"x2":0,"y2":1,"stops":[
{"offset":0,"color":"#fff"},{"offset":0.45,"color":"#fff"},{"offset":0.45,"color":"#000"},{"offset":0.55,"color":"#000"},{"offset":0.55,"color":"#fff"},{"offset":1,"color":"#fff"}]}}
],
"value": {"gradient":"linear","x1":0,"y1":0,"x2":1.2016,"y2":0.412,"stops":[
{"offset":0,"color":"#fff"},{"offset":0.1367,"color":"#fff"},{"offset":0.1367,"color":"#000"},{"offset":0.1667,"color":"#000"},{"offset":0.1667,"color":"#fff"},
{"offset":0.3033,"color":"#fff"},{"offset":0.3033,"color":"#000"},{"offset":0.3333,"color":"#000"},{"offset":0.3333,"color":"#fff"},
{"offset":0.47,"color":"#fff"},{"offset":0.47,"color":"#000"},{"offset":0.5,"color":"#000"},{"offset":0.5,"color":"#fff"},
{"offset":0.6367,"color":"#fff"},{"offset":0.6367,"color":"#000"},{"offset":0.6667,"color":"#000"},{"offset":0.6667,"color":"#fff"},
{"offset":0.8033,"color":"#fff"},{"offset":0.8033,"color":"#000"},{"offset":0.8333,"color":"#000"},{"offset":0.8333,"color":"#fff"},
{"offset":0.97,"color":"#fff"},{"offset":0.97,"color":"#000"},{"offset":1,"color":"#000"}]}
}}
},
{
"transform": [{"filter": {"field": "species", "oneOf": ["Phormidium sp.", "Consortium"]}}],
"mark": {"type": "rect"},
"encoding": {
"x": {"datum": 0, "type": "quantitative", "scale": {"domain": [0, 272], "nice": false, "zero": false}, "axis": null},
"x2": {"datum": 35},
"fill": {"condition": {"test": "datum.species==='Phormidium sp.'", "value": {"gradient":"linear","x1":0,"y1":0,"x2":1,"y2":0,"stops":[
{"offset":0,"color":"rgba(0,0,0,0)"},{"offset":0.235,"color":"rgba(0,0,0,0)"},{"offset":0.235,"color":"#000"},{"offset":0.265,"color":"#000"},{"offset":0.265,"color":"rgba(0,0,0,0)"},{"offset":0.485,"color":"rgba(0,0,0,0)"},{"offset":0.485,"color":"#000"},{"offset":0.515,"color":"#000"},{"offset":0.515,"color":"rgba(0,0,0,0)"},{"offset":0.735,"color":"rgba(0,0,0,0)"},{"offset":0.735,"color":"#000"},{"offset":0.765,"color":"#000"},{"offset":0.765,"color":"rgba(0,0,0,0)"},{"offset":1,"color":"rgba(0,0,0,0)"}]}},
"value": {"gradient":"linear","x1":0,"y1":1,"x2":1.2016,"y2":0.588,"stops":[
{"offset":0,"color":"rgba(0,0,0,0)"},{"offset":0.225,"color":"rgba(0,0,0,0)"},{"offset":0.225,"color":"#444"},{"offset":0.25,"color":"#444"},{"offset":0.25,"color":"rgba(0,0,0,0)"},
{"offset":0.475,"color":"rgba(0,0,0,0)"},{"offset":0.475,"color":"#444"},{"offset":0.5,"color":"#444"},{"offset":0.5,"color":"rgba(0,0,0,0)"},
{"offset":0.725,"color":"rgba(0,0,0,0)"},{"offset":0.725,"color":"#444"},{"offset":0.75,"color":"#444"},{"offset":0.75,"color":"rgba(0,0,0,0)"},
{"offset":0.975,"color":"rgba(0,0,0,0)"},{"offset":0.975,"color":"#444"},{"offset":1,"color":"#444"}]}
}}
},
{
"transform": [{"filter": {"field": "species", "oneOf": ["Initial (Blank)", "Anabaena sp."]}}],
"mark": {"type": "rect", "blend": "difference"},
"encoding": {
"x": {"datum": 0, "type": "quantitative", "scale": {"domain": [0, 272], "nice": false, "zero": false}, "axis": null},
"x2": {"datum": 35},
"fill": {"condition": {"test": "datum.species==='Initial (Blank)'", "value": {"gradient":"linear","x1":0,"y1":0,"x2":1,"y2":0,"stops":[
{"offset":0,"color":"#000"},{"offset":0.0833,"color":"#000"},{"offset":0.0833,"color":"#fff"},{"offset":0.1667,"color":"#fff"},
{"offset":0.1667,"color":"#000"},{"offset":0.25,"color":"#000"},{"offset":0.25,"color":"#fff"},{"offset":0.3333,"color":"#fff"},
{"offset":0.3333,"color":"#000"},{"offset":0.4167,"color":"#000"},{"offset":0.4167,"color":"#fff"},{"offset":0.5,"color":"#fff"},
{"offset":0.5,"color":"#000"},{"offset":0.5833,"color":"#000"},{"offset":0.5833,"color":"#fff"},{"offset":0.6667,"color":"#fff"},
{"offset":0.6667,"color":"#000"},{"offset":0.75,"color":"#000"},{"offset":0.75,"color":"#fff"},{"offset":0.8333,"color":"#fff"},
{"offset":0.8333,"color":"#000"},{"offset":0.9167,"color":"#000"},{"offset":0.9167,"color":"#fff"},{"offset":1,"color":"#fff"}]}},
"value": {"gradient":"linear","x1":0,"y1":0,"x2":1,"y2":0,"stops":[
{"offset":0,"color":"#000"},{"offset":0.1667,"color":"#000"},{"offset":0.1667,"color":"#fff"},{"offset":0.3333,"color":"#fff"},
{"offset":0.3333,"color":"#000"},{"offset":0.5,"color":"#000"},{"offset":0.5,"color":"#fff"},{"offset":0.6667,"color":"#fff"},
{"offset":0.6667,"color":"#000"},{"offset":0.8333,"color":"#000"},{"offset":0.8333,"color":"#fff"},{"offset":1,"color":"#fff"}]}
}}
},
{
"mark": {"type": "rect", "fill": "white", "fillOpacity": 0, "stroke": "#000", "strokeWidth": 1},
"encoding": {
"x": {"datum": 0, "type": "quantitative", "scale": {"domain": [0, 272], "nice": false, "zero": false}, "axis": null},
"x2": {"datum": 35}
}
},
{
"transform": [{"filter": {"field": "species", "oneOf": ["Initial (Blank)", "Consortium"]}}],
"mark": {"type": "text", "align": "left", "baseline": "middle", "fontSize": 25, "color": "#000", "font": "Liberation Sans"},
"encoding": {
"x": {"datum": 54, "type": "quantitative", "scale": {"domain": [0, 272], "nice": false, "zero": false}, "axis": null},
"text": {"field": "species"}
}
},
{
"transform": [{"filter": {"not": {"field": "species", "oneOf": ["Initial (Blank)", "Consortium"]}}}],
"mark": {"type": "text", "align": "left", "baseline": "middle", "fontSize": 25, "fontStyle": "italic", "color": "#000", "font": "Liberation Sans"},
"encoding": {
"x": {"datum": 54, "type": "quantitative", "scale": {"domain": [0, 272], "nice": false, "zero": false}, "axis": null},
"text": {"field": "species"}
}
}
]
}
]
}
